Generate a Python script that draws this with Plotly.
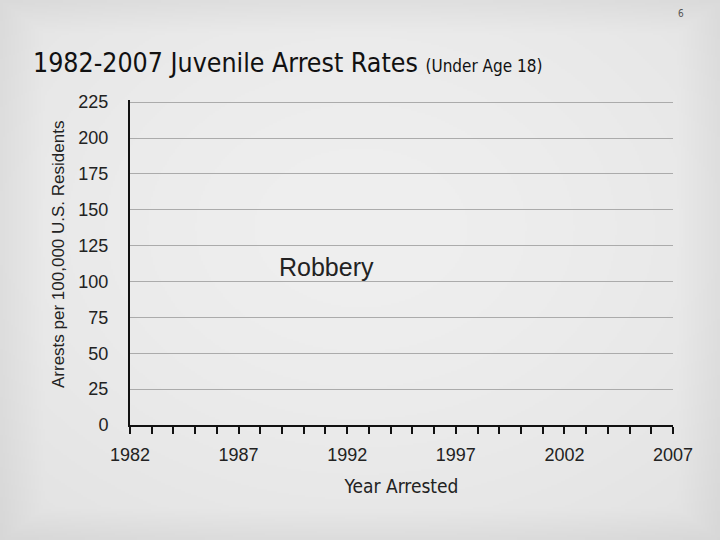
import base64, struct, zlib
import numpy as np
import plotly.graph_objects as go

# ---- data ----
years = list(range(1982, 2008))
robbery_rates = [None] * len(years)   # no data line is drawn in the reference
x_tick_years = [1982, 1987, 1992, 1997, 2002, 2007]
y_tick_values = [0, 25, 50, 75, 100, 125, 150, 175, 200, 225]

W, H = 720, 540
ML, MR, MT, MB = 130, 47, 100, 115

# ---- background vignette image (styling only) ----
def make_png(arr):
    h, w = arr.shape
    raw = b"".join(b"\x00" + bytes(row) for row in arr.astype(np.uint8))
    def chunk(tag, data):
        c = struct.pack(">I", len(data)) + tag + data
        return c + struct.pack(">I", zlib.crc32(tag + data) & 0xffffffff)
    png = b"\x89PNG\r\n\x1a\n"
    png += chunk(b"IHDR", struct.pack(">IIBBBBB", w, h, 8, 0, 0, 0, 0))
    png += chunk(b"IDAT", zlib.compress(raw, 9))
    png += chunk(b"IEND", b"")
    return "data:image/png;base64," + base64.b64encode(png).decode()

yy, xx = np.mgrid[0:H:2, 0:W:2]
dx = (xx - W / 2) / (W / 2)
dy = (yy - H * 0.42) / (H / 2)
r = np.sqrt(dx ** 2 + dy ** 2) / np.sqrt(2)
edge = np.maximum(np.abs(dx), np.abs((yy - H / 2) / (H / 2)))
val = 239 - 12 * r ** 1.6 - 10 * np.clip(edge - 0.88, 0, None) / 0.12
bg_src = make_png(np.clip(val, 200, 255))

pw, ph = W - ML - MR, H - MT - MB

fig = go.Figure()
fig.add_trace(go.Scatter(x=years, y=robbery_rates, mode="lines",
                         line=dict(color="black", width=3), showlegend=False,
                         hoverinfo="skip"))

font_main = "DejaVu Sans Condensed, Liberation Sans Narrow, Arial Narrow, sans-serif"
font_axis = "Liberation Sans, Arial, sans-serif"

fig.update_layout(
    width=W, height=H,
    margin=dict(l=ML, r=MR, t=MT, b=MB),
    paper_bgcolor="#e2e2e2",
    plot_bgcolor="rgba(0,0,0,0)",
    showlegend=False,
    images=[dict(source=bg_src, xref="paper", yref="paper",
                 x=-ML / pw, y=1 + MT / ph, sizex=W / pw, sizey=H / ph,
                 xanchor="left", yanchor="top", sizing="stretch", layer="below")],
    xaxis=dict(range=[1982, 2007], tickmode="array", tickvals=years,
               ticktext=[str(y) if y in x_tick_years else "" for y in years],
               ticks="outside", ticklen=7, tickwidth=2, tickcolor="#111",
               showline=True, linecolor="#111", linewidth=2,
               showgrid=False, zeroline=False, ticklabelstandoff=5,
               tickfont=dict(family=font_axis, size=18, color="#222"),
               title=dict(text="Year Arrested", standoff=16,
                          font=dict(family=font_main, size=19, color="#222"))),
    yaxis=dict(range=[0, 226.5], tickmode="array", tickvals=y_tick_values,
               showline=True, linecolor="#111", linewidth=2,
               showgrid=True, gridcolor="#ababab", gridwidth=1,
               zeroline=False, ticks="", ticklabelstandoff=16,
               tickfont=dict(family=font_axis, size=18, color="#222")),
    annotations=[
        dict(text="1982-2007 Juvenile Arrest Rates <span style='font-size:17px'>(Under Age 18)</span>",
             xref="paper", yref="paper", x=-99 / pw, y=1 + (MT - 62) / ph,
             xanchor="left", yanchor="middle", showarrow=False,
             font=dict(family=font_main, size=26.5, color="#111")),
        dict(text="6", xref="paper", yref="paper", x=(681 - ML) / pw, y=1 + (MT - 14) / ph,
             xanchor="center", yanchor="middle", showarrow=False,
             font=dict(family=font_main, size=10, color="#555")),
        dict(text="Arrests per 100,000 U.S. Residents", textangle=-90,
             xref="paper", yref="paper", x=(58 - ML) / pw, y=(H - MB - 255) / ph,
             xanchor="center", yanchor="middle", showarrow=False,
             font=dict(family=font_axis, size=17, color="#222")),
        dict(text="Robbery", xref="x", yref="y", x=1988.75, y=110,
             xanchor="left", yanchor="middle", showarrow=False,
             font=dict(family=font_axis, size=25, color="#222")),
    ],
)

fig.write_html("out.html", config={"displayModeBar": False},
               post_script="document.body.style.margin='0';document.body.style.overflow='hidden';")
